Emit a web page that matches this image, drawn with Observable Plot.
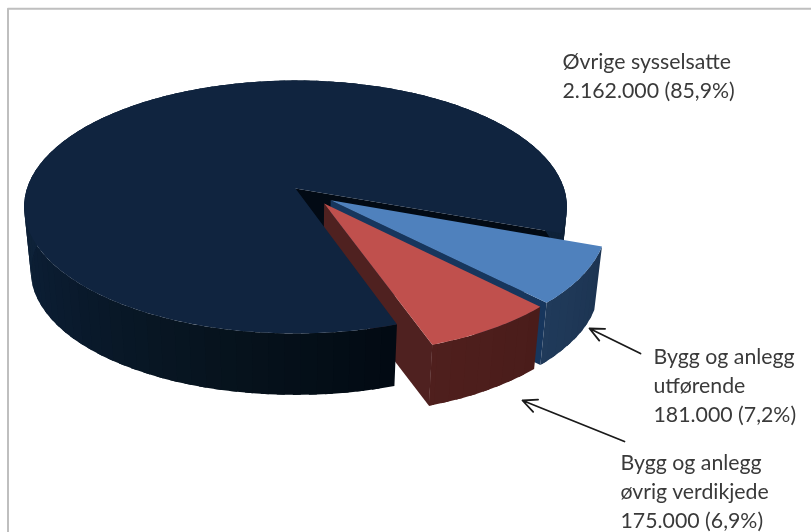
<!DOCTYPE html>
<html><head><meta charset="utf-8">
<style>html,body{margin:0;padding:0;background:#fff}svg{display:block;filter:blur(0.45px)}</style>
<script src="https://cdn.jsdelivr.net/npm/d3@7"></script>
<script src="https://cdn.jsdelivr.net/npm/@observablehq/plot@0.6"></script>
</head><body><script>
// Data
const sliceNames = ["main", "blue", "red"];
const sliceValues = [2162000, 181000, 175000];
const topColors = ["#10243f", "#4f81bd", "#c0504d"];
const wallColors = [["#0e2239", "#0a1b2f", "#07141f", "#020a13"], ["#203a5a", "#1c3452"], ["#4f1f1d", "#4a1c1a"]];
const faceColors = ["#020a14", "#17365d", "#4f2120"];
const explode = [0, 0.16, 0.159];
const explodeDir = [0, 36.2, 48.8];
const labelLines = ["Øvrige sysselsatte\n2.162.000 (85,9%)", "Bygg og anlegg\nutførende\n181.000 (7,2%)", "Bygg og anlegg\nøvrig verdikjede\n175.000 (6,9%)"];
const labelX = [562, 653, 620];
const labelY = [48, 343, 449];
const arrowX1 = [640, 624], arrowY1 = [353, 441], arrowX2 = [589, 522], arrowY2 = [328, 400];
const frameX = [7.5, 7.5, 811], frameY = [532, 8.3, 8.3];

// 3-D pie projection
const cx = 295, cy = 188, R = 268.5, Rb = 123.8, k = 0.1463, depth = 65, shrink = 0.975, startAngle = 71;
const rad = d => d * Math.PI / 180;
function project(X, Y, low) {
  const s = 1 / (1 - k * Y), m = low ? shrink : 1;
  return {x: cx + R * X * s * m, y: cy + (low ? depth : 0) + Rb * Y * s * m};
}
const total = d3.sum(sliceValues);
const polyLists = {faces: [], main: [], blue: [], red: []};
let polyId = 0;
function poly(list, points, fill) {
  const id = polyId++;
  for (const p of points) polyLists[list].push({...p, id, fill});
}
let a = startAngle;
sliceNames.forEach((name, i) => {
  const span = sliceValues[i] / total * 360, a0 = a, a1 = a + span;
  a = a1;
  const ox = explode[i] * Math.cos(rad(explodeDir[i])), oy = explode[i] * Math.sin(rad(explodeDir[i]));
  const pt = (ang, r, low) => project(ox + r * Math.cos(rad(ang)), oy + r * Math.sin(rad(ang)), low);
  // cut face at the slice's clockwise end
  poly("faces", [pt(a1, 0, false), pt(a1, 1, false), pt(a1, 1, true), pt(a1, 0, true)], faceColors[i]);
  // outer wall: overlapping strips so no seams show
  const shade = d3.scaleLinear().domain(d3.quantize(d3.interpolate(i === 0 ? 180 : a1, i === 0 ? startAngle : a0), wallColors[i].length)).range(wallColors[i]).clamp(true);
  const angles = d3.range(a0, a1, 3).concat([a1]);
  for (let j = 0; j < angles.length - 1; j++) {
    const t0 = angles[j], tm = angles[j + 1], t1 = Math.min(tm + 1.5, a1);
    poly(name, [pt(t0, 1, false), pt(tm, 1, false), pt(t1, 1, false), pt(t1, 1, true), pt(tm, 1, true), pt(t0, 1, true)], shade((t0 + tm) / 2));
  }
  // top surface
  const topPts = [pt(a0, 0, false)];
  for (const t of d3.range(a0, a1, 1).concat([a1])) topPts.push(pt(t, 1, false));
  poly(name, topPts, topColors[i]);
});

const labels = labelLines.map((text, i) => ({text, x: labelX[i], y: labelY[i]}));
const arrows = arrowX1.map((_, i) => ({x1: arrowX1[i], y1: arrowY1[i], x2: arrowX2[i], y2: arrowY2[i]}));
const frame = frameX.map((x, i) => ({x, y: frameY[i]}));
const solid = list => Plot.line(polyLists[list], {x: "x", y: "y", z: "id", fill: "fill", stroke: "none"});

const plot = Plot.plot({
  width: 811, height: 532, margin: 0,
  x: {domain: [0, 811], range: [0, 811], axis: null},
  y: {domain: [0, 532], range: [0, 532], axis: null},
  color: {type: "identity"},
  marks: [
    Plot.line(frame, {x: "x", y: "y", stroke: "#bfbfbf", strokeWidth: 2}),
    solid("faces"), solid("main"), solid("blue"), solid("red"),
    Plot.arrow(arrows, {x1: "x1", y1: "y1", x2: "x2", y2: "y2", stroke: "#1a1a1a", strokeWidth: 1.8, headLength: 13, headAngle: 50}),
    Plot.text(labels, {x: "x", y: "y", text: "text", textAnchor: "start", lineAnchor: "top", lineHeight: 1.36, fontSize: 21.3, fontFamily: "Lato", fill: "#3a3a3a"})
  ]
});
document.body.appendChild(plot);
</script></body></html>
